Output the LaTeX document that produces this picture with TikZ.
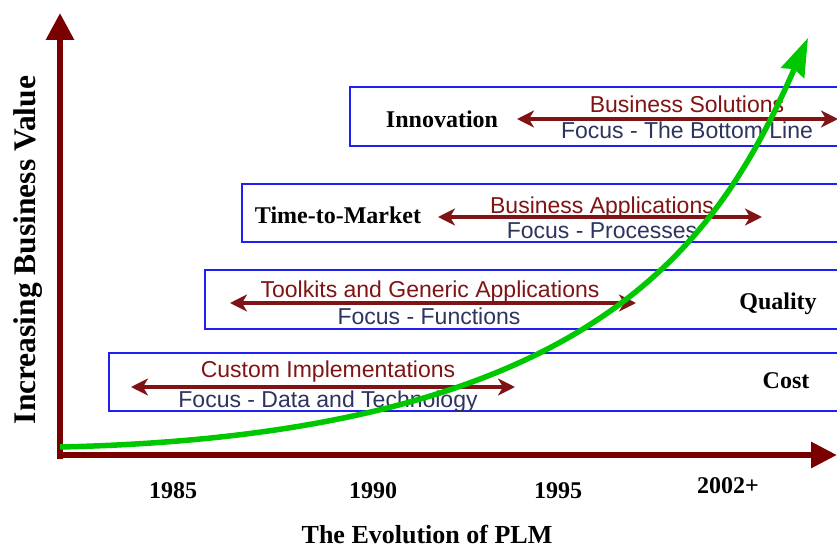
\documentclass[tikz,border=0pt]{standalone}
\usepackage{fontspec}
\setmainfont{Liberation Serif}
\newfontfamily\sansf{Liberation Sans}
\usetikzlibrary{arrows.meta}
\definecolor{axisred}{RGB}{122,0,0}
\definecolor{arrred}{RGB}{128,20,20}
\definecolor{boxblue}{RGB}{30,30,245}
\definecolor{focusblue}{RGB}{45,52,95}
\definecolor{curvegreen}{RGB}{0,200,0}
\tikzset{
  axisline/.style={draw=axisred, line width=6pt},
  stagebox/.style={draw=boxblue, line width=1.8pt},
  spanarrow/.style={draw=arrred, line width=4pt, {Stealth[length=17pt,width=17pt,inset=5pt]}-{Stealth[length=17pt,width=17pt,inset=5pt]}},
  serlabel/.style={inner sep=0pt, anchor=base, font=\fontsize{24}{28}\selectfont\bfseries},
  toplabel/.style={inner sep=0pt, anchor=base, text=arrred, font=\sansf\fontsize{23}{27}\selectfont},
  focuslabel/.style={inner sep=0pt, anchor=base, text=focusblue, font=\sansf\fontsize{23}{27}\selectfont},
  growth/.style={draw=curvegreen, line width=5.5pt, -{Stealth[length=38pt,width=25pt,inset=4pt]}}
}
\begin{document}
\begin{tikzpicture}[x=1pt, y=-1pt]
\useasboundingbox (0,0) rectangle (837,548);
\clip (0,0) rectangle (837,548);

% stage boxes
\draw[stagebox] (350,87) rectangle (860,146);
\draw[stagebox] (242,184) rectangle (860,242);
\draw[stagebox] (205,270) rectangle (860,329);
\draw[stagebox] (109,353) rectangle (860,411);

% axes
\coordinate (origin) at (60,455);
\coordinate (ytop) at (60,13);
\coordinate (xend) at (837,455);
\coordinate (ybottom) at (60,459);
\coordinate (xstart) at (57,455);
\draw[axisline, -{Triangle[length=27pt,width=27pt]}] (ybottom) -- (ytop);
\draw[axisline, -{Triangle[length=26pt,width=25pt]}] (xstart) -- (xend);

% stage span arrows
\coordinate (a1l) at (517,119); \coordinate (a1r) at (838,119);
\coordinate (a2l) at (438,217); \coordinate (a2r) at (762,217);
\coordinate (a3l) at (230,303); \coordinate (a3r) at (636,303);
\coordinate (a4l) at (131,387); \coordinate (a4r) at (515,387);
\draw[spanarrow] (a1l) -- (a1r);
\draw[spanarrow] (a2l) -- (a2r);
\draw[spanarrow] (a3l) -- (a3r);
\draw[spanarrow] (a4l) -- (a4r);

% labels in boxes
\node[serlabel] (innov) at (442,128) {Innovation};
\node[toplabel] (bsol) at (687,113) {Business Solutions};
\node[focuslabel] (fbot) at (687,139) {Focus - The Bottom Line};

\node[serlabel] (ttm) at (338,223) {Time-to-Market};
\node[toplabel] (bapp) at (602,213) {Business Applications};
\node[focuslabel] (fproc) at (602,238) {Focus - Processes};

\node[toplabel] (tool) at (430,297) {Toolkits and Generic Applications};
\node[focuslabel] (ffun) at (429,324) {Focus - Functions};
\node[serlabel] (qual) at (778,309) {Quality};

\node[toplabel] (cust) at (328,377) {Custom Implementations};
\node[focuslabel] (fdata) at (328,407) {Focus - Data and Technology};
\node[serlabel] (cost) at (786,388) {Cost};

% years
\node[serlabel] (y85) at (173,498) {1985};
\node[serlabel] (y90) at (373,498) {1990};
\node[serlabel] (y95) at (558,498) {1995};
\node[serlabel] (y02) at (728,493) {2002+};

% axis titles
\node[inner sep=0pt, anchor=base, font=\fontsize{26}{30}\selectfont\bfseries] (xtitle) at (427,543) {The Evolution of PLM};
\node[inner sep=0pt, anchor=base, rotate=90, font=\fontsize{31.5}{36}\selectfont\bfseries] (ytitle) at (35,250) {Increasing Business Value};

% growth curve
\coordinate (gstart) at (60,447);
\coordinate (gend) at (808,38);
\draw[growth] (gstart) .. controls (600,435) and (719,239) .. (gend);
\end{tikzpicture}
\end{document}
